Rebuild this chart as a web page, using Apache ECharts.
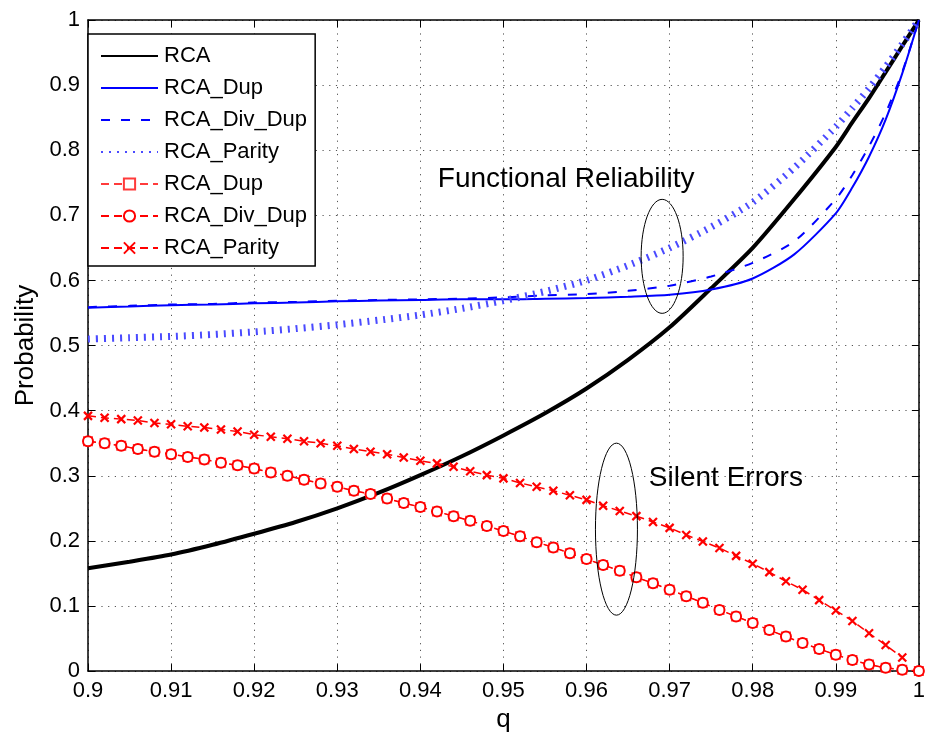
<!DOCTYPE html>
<html>
<head>
<meta charset="utf-8">
<script src="https://cdn.jsdelivr.net/npm/echarts@6/dist/echarts.min.js"></script>
<style>
  html, body { margin: 0; padding: 0; background: #fff; }
  #chart { width: 928px; height: 738px; }
</style>
</head>
<body>
<div id="chart"></div>
<script>
var FONT = '"Liberation Sans", Arial, Helvetica, sans-serif';

// functional reliability curves
var qRel = [0.900, 0.905, 0.910, 0.915, 0.920, 0.925, 0.930, 0.935, 0.940, 0.945,
  0.950, 0.955, 0.960, 0.965, 0.970, 0.975, 0.980, 0.985, 0.990, 0.992,
  0.994, 0.996, 0.998, 1.000];
var rca = [0.158, 0.168, 0.179, 0.194, 0.211, 0.229, 0.250, 0.274, 0.301, 0.330,
  0.362, 0.396, 0.434, 0.478, 0.528, 0.588, 0.650, 0.725, 0.805, 0.843,
  0.880, 0.920, 0.960, 1.000];
var rcaDup = [0.558, 0.560, 0.562, 0.563, 0.565, 0.566, 0.568, 0.569, 0.570, 0.571,
  0.571, 0.572, 0.573, 0.575, 0.578, 0.586, 0.603, 0.640, 0.703, 0.743,
  0.790, 0.847, 0.918, 1.000];
var rcaDivDup = [0.559, 0.561, 0.563, 0.564, 0.566, 0.567, 0.569, 0.570, 0.571, 0.572,
  0.574, 0.577, 0.579, 0.584, 0.592, 0.606, 0.627, 0.660, 0.725, 0.762,
  0.806, 0.857, 0.920, 1.000];
var rcaParity = [0.510, 0.512, 0.514, 0.517, 0.521, 0.526, 0.532, 0.539, 0.547, 0.557,
  0.569, 0.583, 0.600, 0.623, 0.650, 0.682, 0.720, 0.773, 0.836, 0.865,
  0.895, 0.928, 0.963, 1.000];

// silent error curves
var qSil = [0.900, 0.902, 0.904, 0.906, 0.908, 0.910, 0.912, 0.914, 0.916, 0.918,
  0.920, 0.922, 0.924, 0.926, 0.928, 0.930, 0.932, 0.934, 0.936, 0.938,
  0.940, 0.942, 0.944, 0.946, 0.948, 0.950, 0.952, 0.954, 0.956, 0.958,
  0.960, 0.962, 0.964, 0.966, 0.968, 0.970, 0.972, 0.974, 0.976, 0.978,
  0.980, 0.982, 0.984, 0.986, 0.988, 0.990, 0.992, 0.994, 0.996, 0.998,
  1.000];
var silDup = [0.353, 0.350, 0.346, 0.341, 0.337, 0.333, 0.329, 0.325, 0.320, 0.316,
  0.311, 0.305, 0.300, 0.294, 0.288, 0.283, 0.277, 0.272, 0.265, 0.258,
  0.252, 0.245, 0.238, 0.231, 0.223, 0.215, 0.207, 0.198, 0.190, 0.181,
  0.172, 0.163, 0.154, 0.144, 0.135, 0.125, 0.115, 0.105, 0.094, 0.084,
  0.074, 0.063, 0.053, 0.043, 0.034, 0.025, 0.017, 0.010, 0.005, 0.002,
  0.000];
var silDivDup = [0.353, 0.350, 0.346, 0.341, 0.337, 0.333, 0.329, 0.325, 0.320, 0.316,
  0.311, 0.305, 0.300, 0.294, 0.288, 0.283, 0.277, 0.272, 0.265, 0.258,
  0.252, 0.245, 0.238, 0.231, 0.223, 0.215, 0.207, 0.198, 0.190, 0.181,
  0.172, 0.163, 0.154, 0.144, 0.135, 0.125, 0.115, 0.105, 0.094, 0.084,
  0.074, 0.063, 0.053, 0.043, 0.034, 0.025, 0.017, 0.010, 0.005, 0.002,
  0.000];
var silParity = [0.392, 0.389, 0.387, 0.385, 0.381, 0.379, 0.376, 0.374, 0.371, 0.368,
  0.363, 0.360, 0.357, 0.353, 0.350, 0.346, 0.341, 0.337, 0.333, 0.328,
  0.323, 0.319, 0.314, 0.307, 0.301, 0.296, 0.289, 0.283, 0.277, 0.270,
  0.263, 0.254, 0.246, 0.238, 0.229, 0.220, 0.209, 0.199, 0.189, 0.177,
  0.165, 0.152, 0.138, 0.125, 0.109, 0.093, 0.077, 0.058, 0.040, 0.021];

function pairs(xs, ys) {
  var out = [];
  for (var i = 0; i < ys.length; i++) {
    out.push([xs[i], ys[i]]);
  }
  return out;
}

var chart = echarts.init(document.getElementById('chart'));

var gridLine = { show: true, lineStyle: { color: '#555', width: 1, type: [1.2, 5.5] } };
var tickIn = { show: true, inside: true, length: 7, lineStyle: { color: '#000', width: 1 } };
var frame = { show: true, onZero: false, lineStyle: { color: '#000', width: 1.5 } };
// hides the legend dot of series drawn without markers
var noMark = { color: 'rgba(0,0,0,0)', borderColor: 'rgba(0,0,0,0)' };

var option = {
  animation: false,
  backgroundColor: '#fff',
  textStyle: { fontFamily: FONT },
  grid: { left: 88, right: 3, top: 20, bottom: 65, containLabel: false },
  legend: {
    left: 88,
    top: 34,
    orient: 'vertical',
    selectedMode: false,
    backgroundColor: '#fff',
    borderColor: '#000',
    borderWidth: 1.5,
    borderRadius: 0,
    padding: [11, 2, 7, 12],
    itemGap: 10,
    itemWidth: 57,
    itemHeight: 14,
    textStyle: { fontFamily: FONT, fontSize: 22, color: '#000', padding: [0, 0, 0, 1] }
  },
  xAxis: [{
    type: 'value', min: 0.9, max: 1, interval: 0.01,
    name: 'q', nameLocation: 'middle', nameGap: 30,
    nameTextStyle: { fontFamily: FONT, fontSize: 26, color: '#000' },
    axisLine: frame, axisTick: tickIn, splitLine: gridLine,
    axisLabel: {
      fontFamily: FONT, fontSize: 22, color: '#000', margin: 9,
      formatter: function (v) { return String(+v.toFixed(2)); }
    }
  }, {
    type: 'value', min: 0.9, max: 1, interval: 0.01, position: 'top',
    axisLine: frame, axisTick: tickIn, splitLine: { show: false }, axisLabel: { show: false }
  }],
  yAxis: [{
    type: 'value', min: 0, max: 1, interval: 0.1,
    name: 'Probability', nameLocation: 'middle', nameGap: 48,
    nameTextStyle: { fontFamily: FONT, fontSize: 26, color: '#000' },
    axisLine: frame, axisTick: tickIn, splitLine: gridLine,
    axisLabel: {
      fontFamily: FONT, fontSize: 22, color: '#000', margin: 8,
      formatter: function (v) { return String(+v.toFixed(1)); }
    }
  }, {
    type: 'value', min: 0, max: 1, interval: 0.1, position: 'right',
    axisLine: frame, axisTick: tickIn, splitLine: { show: false }, axisLabel: { show: false }
  }],
  series: [
    {
      name: 'RCA', type: 'line', symbol: 'none', z: 3, smooth: 0.25,
      lineStyle: { color: '#000', width: 4 }, itemStyle: noMark,
      data: pairs(qRel, rca)
    },
    {
      name: 'RCA_Dup', type: 'line', symbol: 'none', z: 3, smooth: 0.25,
      lineStyle: { color: '#0000ff', width: 2 }, itemStyle: noMark,
      data: pairs(qRel, rcaDup)
    },
    {
      name: 'RCA_Div_Dup', type: 'line', symbol: 'none', z: 3, smooth: 0.25,
      lineStyle: { color: '#0000ff', width: 2, type: [9, 11] }, itemStyle: noMark,
      data: pairs(qRel, rcaDivDup)
    },
    {
      name: 'RCA_Parity', type: 'line', symbol: 'none', z: 3, smooth: 0.25,
      lineStyle: { color: '#4a4aff', width: 7, type: [2, 6], cap: 'butt' }, itemStyle: noMark,
      data: pairs(qRel, rcaParity)
    },
    {
      name: 'RCA_Dup ', type: 'line', symbol: 'emptyRect', symbolSize: 8, z: 4,
      lineStyle: { color: '#ff3b3b', width: 1, type: [8, 5] },
      itemStyle: { color: '#ff3b3b', borderColor: '#ff3b3b', borderWidth: 1 },
      data: pairs(qSil, silDup)
    },
    {
      name: 'RCA_Div_Dup ', type: 'line', symbol: 'emptyCircle', symbolSize: 10, z: 4,
      lineStyle: { color: '#ff0000', width: 1.5, type: [8, 5] },
      itemStyle: { color: '#ff0000', borderColor: '#ff0000', borderWidth: 2 },
      data: pairs(qSil, silDivDup)
    },
    {
      name: 'RCA_Parity ', type: 'line', symbol: 'path://M0,0L10,10M10,0L0,10', symbolSize: 8, z: 4,
      lineStyle: { color: '#ff0000', width: 1.5, type: [8, 5] },
      itemStyle: { color: 'rgba(0,0,0,0)', borderColor: '#ff0000', borderWidth: 2.2 },
      data: pairs(qSil, silParity)
    }
  ]
};

chart.setOption(option);

// annotations placed in data coordinates
var funcCenter = chart.convertToPixel({ gridIndex: 0 }, [0.9691, 0.637]);
var silCenter = chart.convertToPixel({ gridIndex: 0 }, [0.9636, 0.218]);
var funcText = chart.convertToPixel({ gridIndex: 0 }, [0.9421, 0.755]);
var silText = chart.convertToPixel({ gridIndex: 0 }, [0.9675, 0.296]);

chart.setOption({
  graphic: [
    {
      type: 'ellipse', z: 10,
      shape: { cx: funcCenter[0], cy: funcCenter[1], rx: 21, ry: 57 },
      style: { fill: 'none', stroke: '#000', lineWidth: 1 }
    },
    {
      type: 'ellipse', z: 10,
      shape: { cx: silCenter[0], cy: silCenter[1], rx: 21, ry: 86 },
      style: { fill: 'none', stroke: '#000', lineWidth: 1 }
    },
    {
      type: 'text', z: 10, x: funcText[0], y: funcText[1],
      style: { text: 'Functional Reliability', fontFamily: FONT, fontSize: 28, fill: '#000', verticalAlign: 'middle' }
    },
    {
      type: 'text', z: 10, x: silText[0], y: silText[1],
      style: { text: 'Silent Errors', fontFamily: FONT, fontSize: 28, fill: '#000', verticalAlign: 'middle' }
    }
  ]
});
</script>
</body>
</html>
